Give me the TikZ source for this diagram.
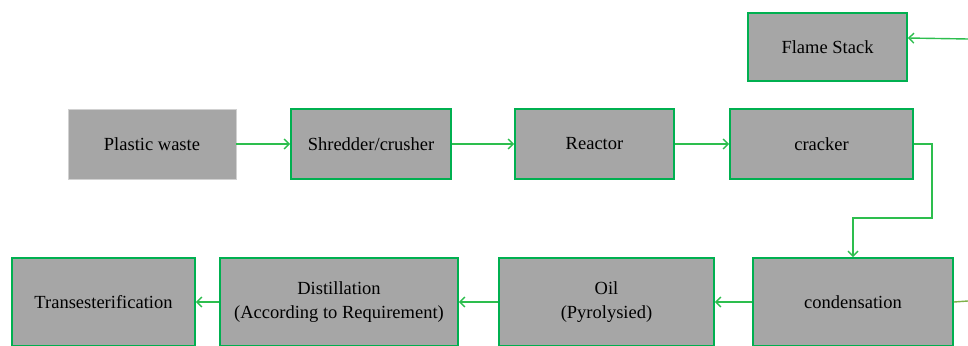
\documentclass[tikz,border=0pt]{standalone}
\usepackage{fontspec}
\setmainfont{Liberation Serif}
\usepackage{tikz}
\usetikzlibrary{arrows.meta, positioning, calc}

\definecolor{boxgray}{HTML}{A6A6A6}
\definecolor{boxgreen}{HTML}{00B050}
\definecolor{linegreen}{HTML}{2DBE4E}
\definecolor{olivegreen}{HTML}{7EB04A}

\begin{document}
\begin{tikzpicture}[x=1pt, y=-1pt,
    proc/.style={draw=boxgreen, fill=boxgray, line width=1.8pt, minimum height=70pt, align=center, inner sep=0pt, font=\fontsize{18.5}{24}\selectfont},
    link/.style={draw=linegreen, line width=1.4pt, -{Straight Barb[length=5pt, width=10pt]}}]

    \useasboundingbox (0,0) rectangle (968,345);

    % Top row
    \node[proc, minimum width=159pt, minimum height=68pt] (flame) at (827.5,47) {Flame Stack};
    \node[proc, draw=black!18, line width=0.8pt, minimum width=168pt] (waste) at (152,144) {Plastic waste};
    \node[proc, minimum width=160pt] (shred) at (371,144) {Shredder/crusher};
    \node[proc, minimum width=159pt] (reactor) at (594.5,144) {Reactor};
    \node[proc, minimum width=183pt] (cracker) at (821.5,144) {cracker};

    % Bottom row
    \node[proc, minimum width=200pt, minimum height=88pt] (cond) at (853,302) {condensation};
    \node[proc, minimum width=215pt, minimum height=88pt] (oil) at (606.5,302) {Oil\\(Pyrolysied)};
    \node[proc, minimum width=238pt, minimum height=88pt] (distill) at (339,302) {Distillation\\(According to Requirement)};
    \node[proc, minimum width=183pt, minimum height=88pt] (trans) at (103.5,302) {Transesterification};

    % Free ends at the right edge
    \coordinate (gasin) at (968,39);
    \coordinate (condout) at (968,301);

    % Connectors
    \draw[link] (waste) -- (shred);
    \draw[link] (shred) -- (reactor);
    \draw[link] (reactor) -- (cracker);
    \draw[link] (gasin) -- ([yshift=9pt]flame.east);
    \draw[link] (cracker.east) -| (932,218) -| (cond.north);
    \draw[link] (cond) -- (oil);
    \draw[link] (oil) -- (distill);
    \draw[link] (distill) -- (trans);
    \draw[draw=olivegreen, line width=1.4pt] (cond.east) -- (condout);
\end{tikzpicture}
\end{document}
